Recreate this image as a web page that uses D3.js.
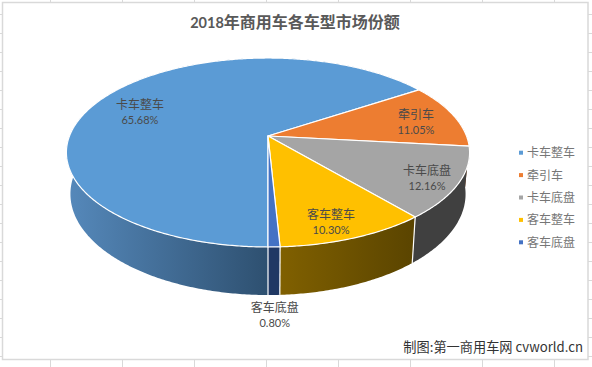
<!DOCTYPE html>
<html>
<head>
<meta charset="utf-8">
<script src="https://cdn.jsdelivr.net/npm/d3@7"></script>
<style>
	html, body { margin: 0; padding: 0; background: #fff; }
	svg { display: block; }
	text { font-family: "Noto Sans CJK SC", sans-serif; }
	.num { font-family: Lato, sans-serif; }
</style>
</head>
<body>
<div id="chart"></div>
<script>
// values
var titleYear = "2018";
var titleRest = "年商用车各车型市场份额";
var credit = "制图:第一商用车网 cvworld.cn";
var categories = ["卡车整车", "牵引车", "卡车底盘", "客车整车", "客车底盘"];
var shares = [65.68, 11.05, 12.16, 10.30, 0.80];
var shareLabels = ["65.68%", "11.05%", "12.16%", "10.30%", "0.80%"];

// colours per slice
var topColors = ["#5b9bd5", "#ed7d31", "#a5a5a5", "#ffc000", "#4472c4"];
var wallFrom = ["#5588ba", "#843c0c", "#404040", "#806000", "#203864"];
var wallTo = ["#2e5070", "#843c0c", "#404040", "#5a4400", "#203864"];

// where each data label sits: angle in degrees from 12 o'clock, fraction of the pie radius
var labelAngles = [292.1, 78.8, 119.5, 161.3, 179];
var labelRadii = [0.73, 0.78, 0.853, 0.8515, 1.457];

var width = 592, height = 367;
var apexX = 268, apexY = 136;   // where the pie centre lands after the perspective
var radiusX = 198.5, radiusY = 91.6;
var tilt = 0.1746;              // perspective strength, near edge looks bigger

var svg = d3.select("#chart").append("svg").attr("width", width).attr("height", height);
var defs = svg.append("defs");

// Sheet gridlines peeking out around the chart
var sheet = svg.append("g").attr("stroke", "#d9d9d9").attr("stroke-width", 1);
d3.range(50.5, width, 72).forEach(function (x) {
	sheet.append("line").attr("x1", x).attr("x2", x).attr("y1", 0).attr("y2", height);
});
d3.range(14.5, height, 19).forEach(function (y) {
	sheet.append("line").attr("x1", 0).attr("x2", width).attr("y1", y).attr("y2", y);
});

svg.append("rect")
	.attr("x", 2.5).attr("y", 2.5).attr("width", 585.5).attr("height", 357)
	.attr("fill", "#fff").attr("stroke", "#d9d9d9").attr("stroke-width", 1.5);

// The pie is a flat disc seen in perspective. Top rim and bottom rim have their own scales
var x = d3.scaleLinear().domain([-1, 1]).range([apexX - radiusX, apexX + radiusX]);
var xLow = d3.scaleLinear().domain([-1, 1]).range([apexX - radiusX * 0.98, apexX + radiusX * 0.98]);
var y = d3.scaleLinear().domain([-1, 1]).range([apexY - radiusY, apexY + radiusY]);
var yLow = d3.scaleLinear().domain([-1, 1]).range([176.4 - 97.9, 176.4 + 97.9]);

function project(angle, r, sx, sy) {
	var u = r * Math.sin(angle), v = -r * Math.cos(angle);
	var w = 1 - tilt * v;
	return [sx(u / w), sy(v / w)];
}

function topRim(angle) {
	return project(angle, 1, x, y);
}

function lowRim(angle) {
	return project(angle, 1, xLow, yLow);
}

var pie = d3.pie().sort(null).startAngle(Math.PI).endAngle(3 * Math.PI);
var slices = pie(shares);
var line = d3.line();

function arcAngles(d) {
	var n = Math.ceil((d.endAngle - d.startAngle) / 0.01);
	return d3.range(n + 1).map(function (i) {
		return d.startAngle + (d.endAngle - d.startAngle) * i / n;
	});
}

// Side walls go first, the top surface covers whatever belongs to the back.
// Wall shading runs left to right across the near side of each slice
slices.forEach(function (d, i) {
	var xs = [topRim(d.startAngle)[0], topRim(d.endAngle)[0]];
	var g = defs.append("linearGradient")
		.attr("id", "wall" + i)
		.attr("gradientUnits", "userSpaceOnUse")
		.attr("x1", i == 0 ? x(-1) : d3.min(xs))
		.attr("x2", i == 0 ? apexX : d3.max(xs))
		.attr("y1", 0).attr("y2", 0);
	g.append("stop").attr("offset", 0).attr("stop-color", wallFrom[i]);
	g.append("stop").attr("offset", 1).attr("stop-color", wallTo[i]);
});

var walls = svg.append("g");
walls.selectAll("path").data(slices).enter().append("path")
	.attr("d", function (d) {
		var a = arcAngles(d);
		return line(a.map(function (t) { return topRim(t); }).concat(a.slice().reverse().map(function (t) { return lowRim(t); }))) + "Z";
	})
	.attr("fill", function (d, i) { return "url(#wall" + i + ")"; });

// white seams on the near side of the wall
walls.selectAll("line").data(slices.filter(function (d) {
	return -Math.cos(d.startAngle) > 0.3;
})).enter().append("line")
	.attr("x1", function (d) { return topRim(d.startAngle)[0]; })
	.attr("y1", function (d) { return topRim(d.startAngle)[1]; })
	.attr("x2", function (d) { return lowRim(d.startAngle)[0]; })
	.attr("y2", function (d) { return lowRim(d.startAngle)[1]; })
	.attr("stroke", "#fff").attr("stroke-width", 1.2);

svg.append("g").selectAll("path").data(slices).enter().append("path")
	.attr("d", function (d) {
		return line([[apexX, apexY]].concat(arcAngles(d).map(function (a) { return topRim(a); }))) + "Z";
	})
	.attr("fill", function (d, i) { return topColors[i]; })
	.attr("stroke", "#fff").attr("stroke-width", 1.2).attr("stroke-linejoin", "round");

// Data labels
var labels = svg.append("g").attr("text-anchor", "middle").attr("fill", "#4a4a4a");
categories.forEach(function (c, i) {
	var p = project(labelAngles[i] * Math.PI / 180, labelRadii[i], x, y);
	labels.append("text").attr("x", p[0]).attr("y", p[1] - 3).attr("font-size", 12).text(c);
	labels.append("text").attr("class", "num").attr("x", p[0]).attr("y", p[1] + 12).attr("font-size", 11).text(shareLabels[i]);
});

// Legend
var legendY = d3.scalePoint().domain(categories).range([152.7, 242.3]);
var legend = svg.append("g").selectAll("g").data(categories).enter().append("g")
	.attr("transform", function (d) { return "translate(519," + legendY(d) + ")"; });
legend.append("rect")
	.attr("x", 0).attr("y", -2).attr("width", 4).attr("height", 4)
	.attr("fill", function (d, i) { return topColors[i]; });
legend.append("text")
	.attr("x", 8).attr("y", 4.5).attr("font-size", 12).attr("fill", "#767676")
	.text(function (d) { return d; });

// Title and credit
var chartTitle = svg.append("text")
	.attr("x", 295).attr("y", 27.5).attr("text-anchor", "middle")
	.attr("font-size", 16).attr("font-weight", "bold").attr("fill", "#595959");
chartTitle.append("tspan").attr("class", "num").attr("font-size", 14.5).text(titleYear);
chartTitle.append("tspan").text(titleRest);

svg.append("text")
	.attr("x", 583).attr("y", 352).attr("text-anchor", "end")
	.attr("font-size", 13.2).attr("fill", "#333")
	.text(credit);
</script>
</body>
</html>
